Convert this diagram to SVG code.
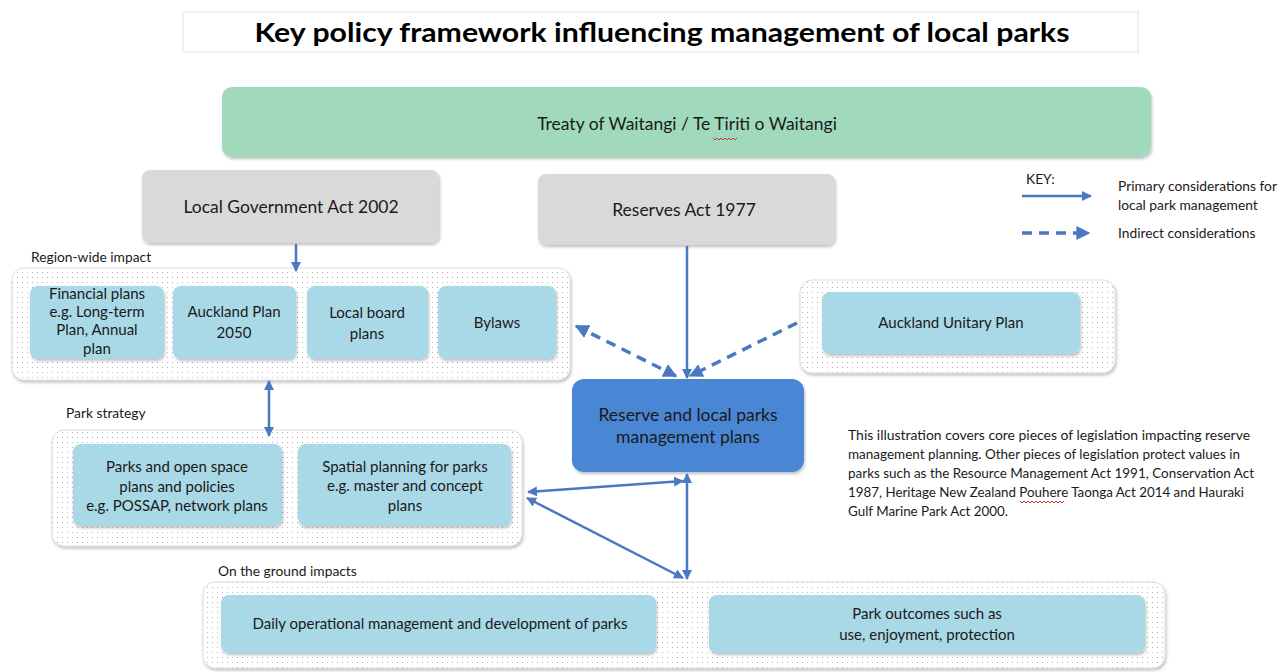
<svg xmlns="http://www.w3.org/2000/svg" width="1287" height="672" viewBox="0 0 1287 672">
<defs>
<pattern id="dots" width="5" height="5" patternUnits="userSpaceOnUse">
<rect width="5" height="5" fill="#ffffff"/>
<circle cx="2.5" cy="2.5" r="0.55" fill="#a8a8a8"/>
</pattern>
<filter id="sh" x="-10%" y="-10%" width="120%" height="130%">
<feDropShadow dx="1" dy="2" stdDeviation="1.5" flood-color="#000" flood-opacity="0.25"/>
</filter>
<marker id="ah" viewBox="0 0 10 10" refX="9" refY="5" markerWidth="4" markerHeight="4" orient="auto-start-reverse">
<path d="M0,0 L10,5 L0,10 z" fill="#4a78c2"/>
</marker>
<style>
text{font-family:Lato,"Open Sans","Liberation Sans",sans-serif;fill:#1a1a1a}
.t{font-size:15px;text-anchor:middle}
.lbl{font-size:13.8px}
.cont{fill:url(#dots);stroke:#dcdcdc;stroke-width:1;filter:url(#sh)}
.ib{fill:#a9d8e6;filter:url(#sh)}
.gray{fill:#d9d9d9;filter:url(#sh)}
.con{stroke:#4a78c2;stroke-width:2.5;fill:none}
.dash{stroke:#4a78c2;stroke-width:3.5;fill:none;stroke-dasharray:10 7}
.sq{stroke:#d03030;stroke-width:1;fill:none}
</style>
</defs>
<rect width="1287" height="672" fill="#ffffff"/>

<g id="title">
<rect x="183" y="12" width="955" height="40" fill="#ffffff" stroke="#ececec" stroke-width="1.5"/>
<text x="662" y="42" font-size="27" font-weight="bold" text-anchor="middle" textLength="815" lengthAdjust="spacingAndGlyphs" style="fill:#000">Key policy framework influencing management of local parks</text>
</g>

<g id="treaty">
<rect x="222" y="87" width="929" height="70" rx="10" fill="#a0d9bb" filter="url(#sh)"/>
<text x="687" y="130" font-size="17.5" text-anchor="middle">Treaty of Waitangi / Te Tiriti o Waitangi</text>
<path class="sq" d="M713,138 l2,2 l2,-2 l2,2 l2,-2 l2,2 l2,-2 l2,2 l2,-2 l2,2 l2,-2 l2,2 l2,-2"/>
</g>

<g id="lga">
<rect class="gray" x="142" y="170" width="297" height="73" rx="8"/>
<text x="291" y="213" font-size="17.5" text-anchor="middle">Local Government Act 2002</text>
</g>

<g id="reserves">
<rect class="gray" x="538" y="174" width="297" height="71" rx="8"/>
<text x="684" y="216" font-size="17.5" text-anchor="middle">Reserves Act 1977</text>
</g>

<g id="key">
<text x="1026" y="184" class="lbl">KEY:</text>
<text x="1118" y="191" class="lbl">Primary considerations for</text>
<text x="1118" y="210" class="lbl">local park management</text>
<text x="1118" y="238" class="lbl">Indirect considerations</text>
</g>

<g id="region-wide">
<text x="31" y="262" class="lbl">Region-wide impact</text>
<rect class="cont" x="12" y="268" width="558" height="112" rx="12"/>
</g>
<g id="financial">
<rect class="ib" x="30" y="286" width="134" height="73" rx="8"/>
<text class="t" x="97" y="299">Financial plans</text>
<text class="t" x="97" y="317">e.g. Long-term</text>
<text class="t" x="97" y="335">Plan, Annual</text>
<text class="t" x="97" y="354">plan</text>
</g>
<g id="auckland-plan">
<rect class="ib" x="173" y="286" width="123" height="73" rx="8"/>
<text class="t" x="234" y="317">Auckland Plan</text>
<text class="t" x="234" y="338">2050</text>
</g>
<g id="local-board">
<rect class="ib" x="307" y="286" width="121" height="73" rx="8"/>
<text class="t" x="367" y="318">Local board</text>
<text class="t" x="367" y="339">plans</text>
</g>
<g id="bylaws">
<rect class="ib" x="438" y="286" width="118" height="73" rx="8"/>
<text class="t" x="497" y="328">Bylaws</text>
</g>

<g id="unitary">
<rect class="cont" x="800" y="280" width="315" height="93" rx="12"/>
<rect class="ib" x="822" y="292" width="258" height="62" rx="8"/>
<text class="t" x="951" y="328">Auckland Unitary Plan</text>
</g>

<g id="rmp">
<rect x="572" y="379" width="232" height="93" rx="12" fill="#4a86d4" filter="url(#sh)"/>
<text x="688" y="421" font-size="17.5" text-anchor="middle">Reserve and local parks</text>
<text x="688" y="443" font-size="17.5" text-anchor="middle">management plans</text>
</g>

<g id="note">
<text x="848" y="440" font-size="12.8" textLength="402" lengthAdjust="spacingAndGlyphs">This illustration covers core pieces of legislation impacting reserve</text>
<text x="848" y="459" font-size="12.8" textLength="392" lengthAdjust="spacingAndGlyphs">management planning. Other pieces of legislation protect values in</text>
<text x="848" y="478" font-size="12.8" textLength="406" lengthAdjust="spacingAndGlyphs">parks such as the Resource Management Act 1991, Conservation Act</text>
<text x="848" y="497" font-size="12.8" textLength="396" lengthAdjust="spacingAndGlyphs">1987, Heritage New Zealand Pouhere Taonga Act 2014 and Hauraki</text>
<text x="848" y="516" font-size="12.8" textLength="160" lengthAdjust="spacingAndGlyphs">Gulf Marine Park Act 2000.</text>
<path class="sq" d="M1020,501 l2,2 l2,-2 l2,2 l2,-2 l2,2 l2,-2 l2,2 l2,-2 l2,2 l2,-2 l2,2 l2,-2 l2,2 l2,-2 l2,2 l2,-2 l2,2 l2,-2 l2,2 l2,-2 l2,2 l2,-2"/>
</g>

<g id="park-strategy">
<text x="66" y="418" class="lbl">Park strategy</text>
<rect class="cont" x="52" y="430" width="470" height="116" rx="12"/>
</g>
<g id="possap">
<rect class="ib" x="73" y="444" width="209" height="82" rx="8"/>
<text class="t" x="177" y="472">Parks and open space</text>
<text class="t" x="177" y="492">plans and policies</text>
<text class="t" x="177" y="511">e.g. POSSAP, network plans</text>
</g>
<g id="spatial">
<rect class="ib" x="298" y="444" width="213" height="82" rx="8"/>
<text class="t" x="405" y="472">Spatial planning for parks</text>
<text class="t" x="405" y="491">e.g. master and concept</text>
<text class="t" x="405" y="511">plans</text>
</g>

<g id="ground">
<text x="218" y="576" class="lbl">On the ground impacts</text>
<rect class="cont" x="203" y="582" width="962" height="86" rx="12"/>
</g>
<g id="daily">
<rect class="ib" x="221" y="595" width="435" height="58" rx="8"/>
<text class="t" x="440" y="629">Daily operational management and development of parks</text>
</g>
<g id="outcomes">
<rect class="ib" x="709" y="595" width="436" height="58" rx="8"/>
<text class="t" x="927" y="619">Park outcomes such as</text>
<text class="t" x="927" y="640">use, enjoyment, protection</text>
</g>

<g id="connectors">
<line class="con" x1="1022" y1="196" x2="1091" y2="196" marker-end="url(#ah)"/>
<line class="dash" x1="1022" y1="233" x2="1089" y2="233" marker-end="url(#ah)" stroke-width="3"/>
<line class="con" x1="296" y1="244" x2="296" y2="271" marker-end="url(#ah)"/>
<line class="con" x1="687" y1="246" x2="687" y2="378" marker-end="url(#ah)"/>
<line class="dash" x1="576" y1="326" x2="676" y2="376" marker-start="url(#ah)" marker-end="url(#ah)"/>
<line class="dash" x1="797" y1="323" x2="690" y2="376" marker-end="url(#ah)"/>
<line class="con" x1="269" y1="381" x2="269" y2="436" marker-start="url(#ah)" marker-end="url(#ah)"/>
<line class="con" x1="528" y1="492" x2="683" y2="481" marker-start="url(#ah)" marker-end="url(#ah)"/>
<line class="con" x1="527" y1="498" x2="683" y2="578" marker-start="url(#ah)" marker-end="url(#ah)"/>
<line class="con" x1="687" y1="474" x2="687" y2="579" marker-start="url(#ah)" marker-end="url(#ah)"/>
</g>
</svg>
